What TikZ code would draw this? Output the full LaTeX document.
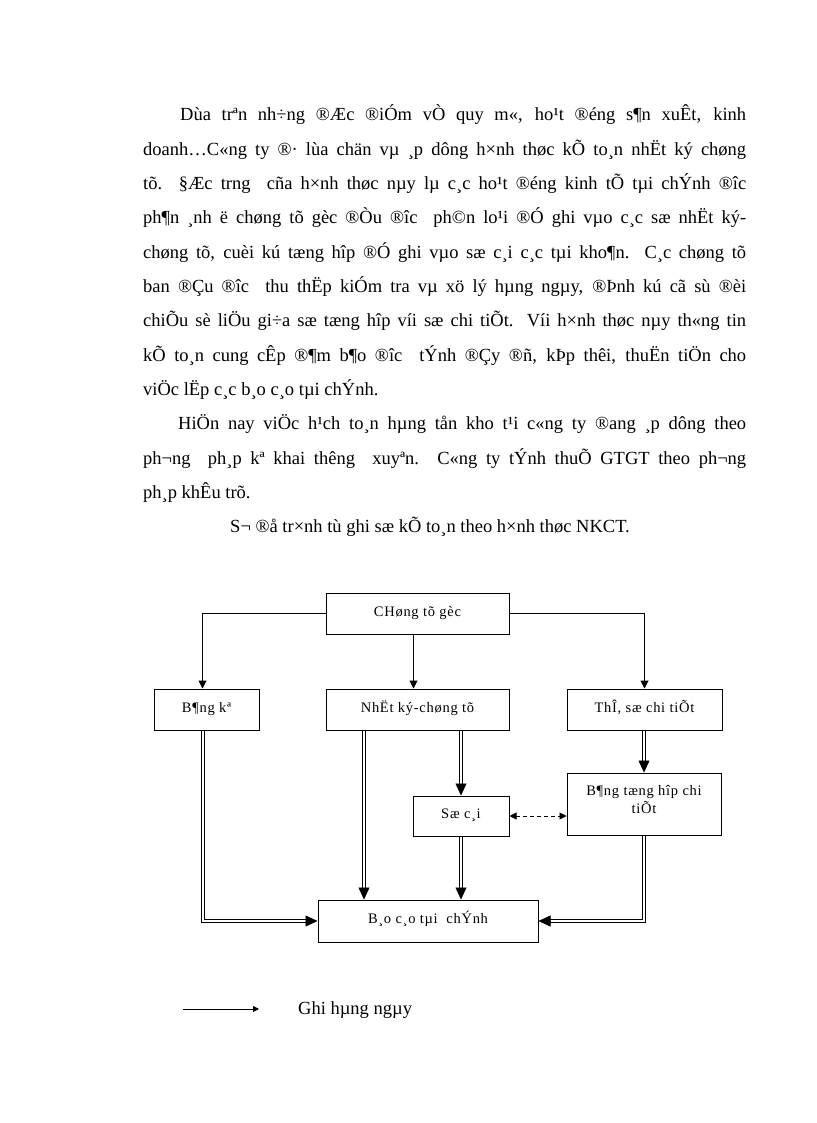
\documentclass[tikz,border=0pt]{standalone}
\usepackage{fontspec}
\setmainfont{Liberation Serif}
\newfontfamily\boxfont[LetterSpace=5]{Liberation Serif}
\usetikzlibrary{arrows.meta,calc}
\begin{document}
\begin{tikzpicture}[x=1pt,y=-1pt,
  box/.style={draw=black, line width=1pt, inner sep=2pt, font=\boxfont\fontsize{14.5}{18}\selectfont, align=center, text height=11pt, text depth=6pt},
  boxlbl/.style={inner sep=0pt, font=\boxfont\fontsize{14.5}{18}\selectfont, align=center},
  txt/.style={anchor=base west, inner sep=0pt, font=\fontsize{18.5}{20}\selectfont},
  thinarr/.style={line width=1pt, -{Triangle[length=8pt,width=8pt]}},
  dbl/.style={double, line width=1.4pt, double distance=1.2pt},
  dblmid/.style={double, line width=1.1pt, double distance=1.5pt},
  dblthin/.style={double, line width=1pt, double distance=2pt},
  tiph/.style={line width=0.5pt, -{Triangle[length=12pt,width=11pt]}},
  smalltip/.style={-{Triangle[length=6pt,width=6pt]}},
]
\useasboundingbox (0,0) rectangle (816,1123);

% body text
\node[txt] (l1) at (180,121) {\makebox[566pt][s]{Dùa trªn nh÷ng ®Æc ®iÓm vÒ quy m«, ho¹t ®éng s¶n xuÊt, kinh}};
\node[txt] (l2) at (143,155.3) {\makebox[603pt][s]{doanh…C«ng ty ®· lùa chän vµ ¸p dông h×nh thøc kÕ to¸n nhËt ký chøng}};
\node[txt] (l3) at (143,189.6) {\makebox[603pt][s]{tõ. §Æc trng\ \ cña h×nh thøc nµy lµ c¸c ho¹t ®éng kinh tÕ tµi chÝnh ®îc}};
\node[txt] (l4) at (143,223.9) {\makebox[603pt][s]{ph¶n ¸nh ë chøng tõ gèc ®Òu ®îc\ \ ph©n lo¹i ®Ó ghi vµo c¸c sæ nhËt ký-}};
\node[txt] (l5) at (143,258.2) {\makebox[603pt][s]{chøng tõ, cuèi kú tæng hîp ®Ó ghi vµo sæ c¸i c¸c tµi kho¶n. C¸c chøng tõ}};
\node[txt] (l6) at (143,292.5) {\makebox[603pt][s]{ban ®Çu ®îc\ \ thu thËp kiÓm tra vµ xö lý hµng ngµy, ®Þnh kú cã sù ®èi}};
\node[txt] (l7) at (143,326.8) {\makebox[603pt][s]{chiÕu sè liÖu gi÷a sæ tæng hîp víi sæ chi tiÕt. Víi h×nh thøc nµy th«ng tin}};
\node[txt] (l8) at (143,361.1) {\makebox[603pt][s]{kÕ to¸n cung cÊp ®¶m b¶o ®îc\ \ tÝnh ®Çy ®ñ, kÞp thêi, thuËn tiÖn cho}};
\node[txt] (l9) at (143,395.4) {viÖc lËp c¸c b¸o c¸o tµi chÝnh.};
\node[txt] (l10) at (178,429.7) {\makebox[568pt][s]{HiÖn nay viÖc h¹ch to¸n hµng tån kho t¹i c«ng ty ®ang ¸p dông theo}};
\node[txt] (l11) at (143,464) {\makebox[603pt][s]{ph¬ng\ \ ph¸p kª khai thêng\ \ xuyªn. C«ng ty tÝnh thuÕ GTGT theo ph¬ng}};
\node[txt] (l12) at (143,498.3) {ph¸p khÊu trõ.};
\node[txt, anchor=base] (l13) at (430,532.6) {S¬ ®å tr×nh tù ghi sæ kÕ to¸n theo h×nh thøc NKCT.};

% diagram boxes
\node[box, minimum width=183pt, minimum height=41pt] (cg) at (417.5,613.5) {CHøng tõ gèc};
\node[box, minimum width=105pt, minimum height=41pt] (bk) at (206.5,709.5) {B¶ng kª};
\node[box, minimum width=183pt, minimum height=41pt] (nk) at (417.5,709.5) {NhËt ký-chøng tõ};
\node[box, minimum width=155pt, minimum height=41pt] (tc) at (644.5,709.5) {ThÎ, sæ chi tiÕt};
\node[box, minimum width=154pt, minimum height=62pt,
      label={[boxlbl, yshift=4pt]center:{B¶ng tæng hîp chi\\tiÕt}}] (th) at (644,804) {};
\node[box, minimum width=96pt, minimum height=40pt] (sc) at (461,816) {Sæ c¸i};
\node[box, minimum width=220pt, minimum height=42pt] (bc) at (428,921) {B¸o c¸o tµi\ \ chÝnh};

% thin arrows from CHung tu goc
\draw[thinarr] (cg.west) -| ([xshift=-4pt]bk.north);
\draw[thinarr] (cg.east) -| (tc.north);
\draw[thinarr] ([xshift=-4pt]cg.south) -- ([xshift=-4pt]nk.north);

% Nhat ky -> Bao cao
\coordinate (a1) at ([xshift=-53.5pt]nk.south);
\coordinate (a1e) at (a1 |- bc.north);
\draw[dbl, shorten >=10pt] (a1) -- (a1e);
\draw[tiph] ([yshift=12pt]a1e) -- (a1e);

% Nhat ky -> So cai
\coordinate (a2) at (nk.south -| sc.north);
\draw[dbl, shorten >=10pt] (a2) -- (sc.north);
\draw[tiph] ([yshift=12pt]sc.north) -- (sc.north);

% So cai -> Bao cao
\coordinate (a3) at (sc.south |- bc.north);
\draw[dbl, shorten >=10pt] (sc.south) -- (a3);
\draw[tiph] ([yshift=12pt]a3) -- (a3);

% The -> Bang tong hop
\coordinate (a4) at (tc.south -| th.north);
\draw[dbl, shorten >=10pt] (a4) -- (th.north);
\draw[tiph] ([yshift=12pt]th.north) -- (th.north);

% Bang tong hop -> Bao cao
\draw[dblmid, shorten >=10pt] (th.south) |- (bc.east);
\draw[tiph] ([xshift=12pt]bc.east) -- (bc.east);

% Bang ke -> Bao cao
\coordinate (b0) at ([xshift=-4pt]bk.south);
\coordinate (b1) at (b0 |- bc.west);
\draw[dblthin] (b0) -- (b1);
\draw[dblthin, shorten >=10pt] (b0) |- (bc.west);
\draw[tiph] ([xshift=-12pt]bc.west) -- (bc.west);

% dashed So cai <-> Bang tong hop
\coordinate (d1) at (sc.east -| th.west);
\draw[line width=0.8pt, dash pattern=on 4pt off 3pt, {Triangle[length=7pt,width=7pt]}-{Triangle[length=7pt,width=7pt]}] (sc.east) -- (d1);

% legend
\coordinate (lg0) at (183,1009);
\coordinate (lg1) at (259,1009);
\draw[line width=0.8pt, smalltip] (lg0) -- (lg1);
\node[txt] (lgt) at (298,1014) {Ghi hµng ngµy};
\end{tikzpicture}
\end{document}
